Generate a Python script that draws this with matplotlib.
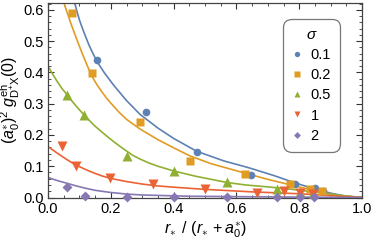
import matplotlib
matplotlib.use("Agg")
import matplotlib.pyplot as plt
from matplotlib.ticker import MultipleLocator

plt.rcParams['font.family'] = ['Liberation Sans', 'DejaVu Sans']
plt.rcParams['mathtext.fontset'] = 'custom'
plt.rcParams['mathtext.rm'] = 'Liberation Sans'
plt.rcParams['mathtext.it'] = 'Liberation Sans:italic'

sigma_labels = ["0.1", "0.2", "0.5", "1", "2"]
colors = ["#5E81B5", "#E19C24", "#8FB032", "#EB6235", "#8778B3"]
markers = ["o", "s", "^", "v", "D"]

# data points
x_01 = [0.155, 0.312, 0.475, 0.645, 0.786, 0.850, 0.877]
y_01 = [0.441, 0.272, 0.145, 0.073, 0.044, 0.031, 0.020]
x_02 = [0.075, 0.141, 0.293, 0.452, 0.627, 0.771, 0.834, 0.872]
y_02 = [0.590, 0.398, 0.241, 0.118, 0.076, 0.042, 0.026, 0.020]
x_05 = [0.062, 0.116, 0.251, 0.401, 0.571, 0.730, 0.803, 0.845]
y_05 = [0.329, 0.263, 0.134, 0.086, 0.050, 0.028, 0.017, 0.015]
x_1 = [0.046, 0.089, 0.199, 0.335, 0.500, 0.667, 0.750, 0.803, 0.845]
y_1 = [0.164, 0.102, 0.063, 0.042, 0.026, 0.015, 0.021, 0.013, 0.012]
x_2 = [0.062, 0.118, 0.251, 0.401, 0.571, 0.730, 0.803, 0.848]
y_2 = [0.034, 0.004, 0.002, 0.002, 0.002, 0.002, 0.002, 0.002]

# fit curves
cx_01 = [0.085, 0.092, 0.10, 0.11, 0.12, 0.13, 0.141, 0.156, 0.18, 0.21, 0.25, 0.293, 0.35, 0.40, 0.473, 0.56, 0.64, 0.72, 0.786, 0.85, 0.90, 0.95, 1.0]
cy_01 = [0.622, 0.596, 0.568, 0.540, 0.514, 0.489, 0.465, 0.435, 0.398, 0.358, 0.310, 0.266, 0.222, 0.189, 0.148, 0.117, 0.095, 0.070, 0.047, 0.027, 0.014, 0.004, 0.0]
cx_02 = [0.051, 0.058, 0.065, 0.072, 0.08, 0.09, 0.10, 0.11, 0.12, 0.13, 0.141, 0.155, 0.17, 0.185, 0.20, 0.225, 0.25, 0.293, 0.35, 0.40, 0.452, 0.52, 0.62, 0.70, 0.77, 0.84, 0.88, 0.93, 1.0]
cy_02 = [0.622, 0.600, 0.580, 0.559, 0.537, 0.510, 0.484, 0.458, 0.434, 0.410, 0.386, 0.362, 0.340, 0.320, 0.302, 0.274, 0.250, 0.219, 0.185, 0.159, 0.133, 0.108, 0.080, 0.058, 0.041, 0.024, 0.015, 0.006, 0.0]
cx_05 = [0.0, 0.015, 0.03, 0.045, 0.062, 0.075, 0.09, 0.103, 0.116, 0.133, 0.15, 0.165, 0.178, 0.195, 0.21, 0.23, 0.251, 0.27, 0.293, 0.32, 0.35, 0.40, 0.47, 0.57, 0.63, 0.70, 0.786, 0.86, 0.93, 1.0]
cy_05 = [0.420, 0.394, 0.370, 0.348, 0.327, 0.310, 0.292, 0.277, 0.263, 0.245, 0.228, 0.215, 0.204, 0.190, 0.178, 0.163, 0.148, 0.135, 0.123, 0.111, 0.100, 0.085, 0.068, 0.048, 0.040, 0.034, 0.025, 0.016, 0.007, 0.0]
cx_1 = [0.0, 0.025, 0.05, 0.07, 0.089, 0.11, 0.13, 0.15, 0.175, 0.20, 0.25, 0.30, 0.35, 0.40, 0.50, 0.65, 0.80, 0.90, 1.0]
cy_1 = [0.163, 0.145, 0.128, 0.115, 0.104, 0.094, 0.085, 0.077, 0.068, 0.061, 0.051, 0.043, 0.037, 0.033, 0.026, 0.018, 0.012, 0.006, 0.0]
cx_2 = [0.0, 0.03, 0.062, 0.09, 0.118, 0.15, 0.20, 0.25, 0.30, 0.45, 0.70, 1.0]
cy_2 = [0.064, 0.054, 0.045, 0.037, 0.030, 0.023, 0.016, 0.011, 0.008, 0.004, 0.002, 0.0]

xs = [x_01, x_02, x_05, x_1, x_2]
ys = [y_01, y_02, y_05, y_1, y_2]
cxs = [cx_01, cx_02, cx_05, cx_1, cx_2]
cys = [cy_01, cy_02, cy_05, cy_1, cy_2]

fig = plt.figure(figsize=(3.74, 2.42), dpi=100)
ax = fig.add_axes([48/374, 44.5/242, 314/374, 194.5/242])

for cx, cy, c in zip(cxs, cys, colors):
    ax.plot(cx, cy, color=c, lw=1.2, zorder=2)
for x, y, c, m, lab in zip(xs, ys, colors, markers, sigma_labels):
    ms = 5.5 if m in ("o", "s") else (6.5 if m in ("^", "v") else 5)
    ax.plot(x, y, ls='none', marker=m, color=c, ms=ms, mec='none', label=lab, zorder=3, clip_on=False)

ax.set_xlim(0, 1.0)
ax.set_ylim(0, 0.622)
ax.xaxis.set_major_locator(MultipleLocator(0.2))
ax.xaxis.set_minor_locator(MultipleLocator(0.05))
ax.yaxis.set_major_locator(MultipleLocator(0.1))
ax.yaxis.set_minor_locator(MultipleLocator(0.02))
ax.xaxis.set_major_formatter(matplotlib.ticker.FormatStrFormatter('%.1f'))
ax.yaxis.set_major_formatter(matplotlib.ticker.FormatStrFormatter('%.1f'))
ax.tick_params(which='both', direction='in', top=True, right=True, labelsize=10.5, colors='#333333', labelcolor='black')
ax.tick_params(which='major', length=4, width=0.8, pad=3)
ax.tick_params(which='minor', length=2, width=0.6)
for s in ax.spines.values():
    s.set_color('#444444')
    s.set_linewidth(0.9)

ax.set_xlabel(r'$r_{\!\ast}\ /\ (r_{\!\ast} + a_0^{\ast})$', fontsize=11.5, labelpad=3)
ax.set_ylabel(r'$(a_0^{\ast})^2\ g^{\mathrm{eh}}_{\mathrm{D^{+}X}}(0)$', fontsize=11.5, labelpad=1)

leg = ax.legend(title=r'$\sigma$', loc='upper right', bbox_to_anchor=(0.922, 0.905),
                fontsize=10.5, title_fontsize=11, frameon=True, fancybox=True,
                handlelength=0.7, handletextpad=0.55, labelspacing=0.42, borderpad=0.45,
                markerscale=0.7, borderaxespad=0)
leg.get_frame().set_edgecolor('#555555')
leg.get_frame().set_linewidth(0.9)
leg.get_frame().set_boxstyle('round,pad=0.2,rounding_size=0.6')

fig.savefig('out.png', dpi=100)
